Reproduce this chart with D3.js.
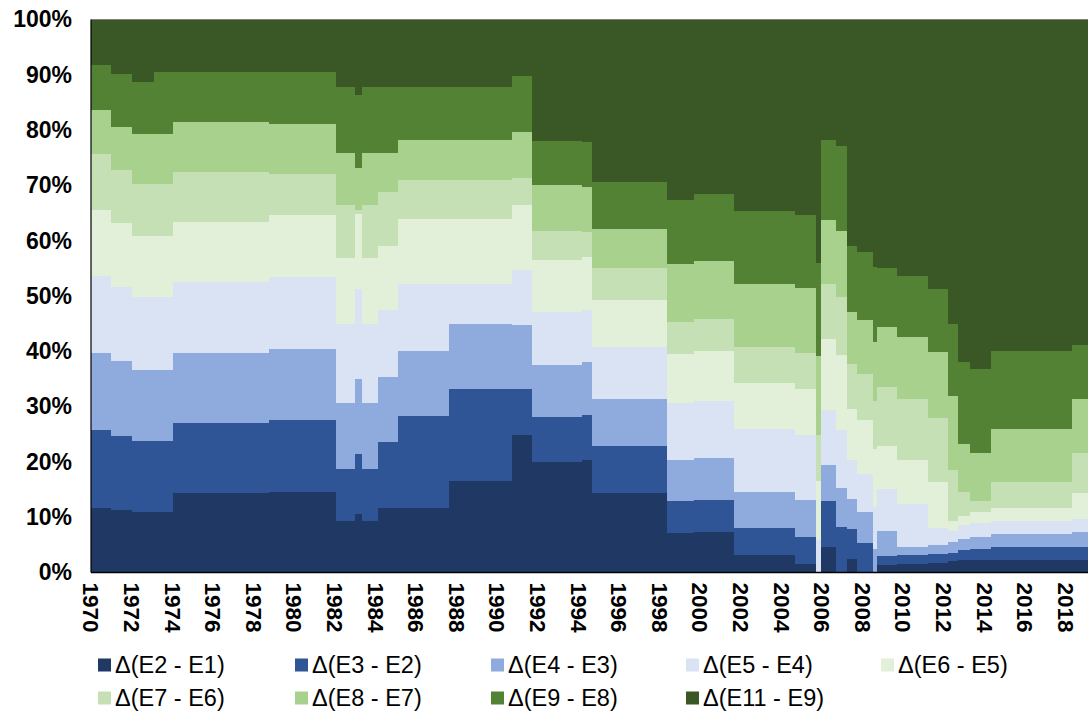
<!DOCTYPE html>
<html><head><meta charset="utf-8">
<script src="https://cdn.jsdelivr.net/npm/d3@7"></script>
<style>body{margin:0;background:#fff}text{font-family:"Liberation Sans",Arial,sans-serif}</style>
</head><body><svg id="c" width="1088" height="711"></svg>
<script>
// ---- data ----
const seriesNames = ["Δ(E2 - E1)","Δ(E3 - E2)","Δ(E4 - E3)","Δ(E5 - E4)","Δ(E6 - E5)",
                     "Δ(E7 - E6)","Δ(E8 - E7)","Δ(E9 - E8)","Δ(E11 - E9)"];
const seriesColors = ["#203864","#2f5597","#8faadc","#dae3f3","#e2f0d9",
                      "#c5e0b4","#a9d18e","#548235","#3a5825"];
// start of each period (decimal year); the last period ends at periodEnd
const periodStart = [1970.0,1971.0,1972.0,1973.08,1974.05,1978.77,1982.07,1983.0,1983.35,1984.12,
  1985.12,1987.64,1990.74,1991.72,1994.19,1994.68,1998.39,1999.70,2001.67,2004.70,
  2005.71,2005.96,2006.70,2007.23,2007.72,2008.51,2008.73,2009.72,2011.22,2012.23,
  2012.73,2013.30,2014.33,2018.31];
const periodEnd = 2019.11;
const dE2E1  = [11.7,11.3,10.9,10.9,14.3,14.6, 9.4,10.6, 9.4,11.7,11.7,16.5,24.8,19.9,20.3,14.3, 7.1, 7.3, 3.1, 1.5, 0.0, 4.7, 0.0, 2.5, 0.0, 0.0, 1.3, 1.6, 1.7, 2.0, 2.2, 2.2, 2.3, 2.3];
const dE3E2  = [14.0,13.4,12.8,12.8,12.7,12.9, 9.4,10.9, 9.4,11.9,16.6,16.6, 8.3, 8.2, 8.1, 8.6, 5.9, 5.9, 4.9, 5.0, 0.0, 8.2, 8.3, 5.4, 5.3, 0.0, 1.7, 1.5, 1.6, 1.5, 1.9, 2.1, 2.3, 2.4];
const dE4E3  = [14.0,13.5,13.0,13.0,12.7,12.9,11.8,13.5,11.8,11.8,11.8,11.9,11.7, 9.5, 9.6, 8.4, 7.4, 7.5, 6.5, 6.6, 0.0, 6.6, 7.0, 5.4, 5.6, 4.3, 4.5, 1.6, 1.6, 2.0, 2.0, 2.1, 2.4, 2.6];
const dE5E4  = [14.0,13.5,13.1,13.1,12.8,13.0,14.4,16.3,14.4,12.0,12.0, 7.1, 9.9, 9.5, 9.5, 9.4,10.2,10.4,11.5,11.7, 5.9, 9.8,10.4, 7.0, 6.9, 7.5, 7.6, 7.7, 3.2, 2.0, 2.4, 2.5, 2.4, 2.4];
const dE6E5  = [11.9,11.5,11.0,11.0,10.8,11.2,11.9,13.5,11.9,11.7,11.9,11.9,11.7, 9.4, 9.5, 8.5, 8.9, 8.9, 8.2, 8.3,10.6,13.0,13.7, 9.3, 9.7,10.6, 7.7, 7.9, 8.2, 1.8, 1.8, 2.0, 2.3, 4.6];
const dE7E6  = [10.1, 9.5, 9.4, 9.4, 9.1, 7.4, 9.5, 0.7, 9.5, 9.7, 7.0, 7.0, 5.0, 5.3, 4.5, 5.8, 5.8, 5.9, 6.5, 6.6, 8.3, 9.9,10.4, 8.1, 8.4, 8.7,10.7,11.1,11.7, 9.3, 4.2, 2.0, 4.6, 7.3];
const dE8E7  = [ 8.0, 7.8, 9.1, 9.1, 9.0, 9.1, 9.4, 7.6, 9.4, 7.0, 7.2, 7.2, 8.2, 8.2, 8.3, 7.2,10.4,10.5,11.5,11.8,14.4,11.5,11.9, 9.4, 9.7,10.5,10.9,11.1,11.8,13.4, 8.8, 8.7, 9.7, 9.8];
const dE9E8  = [ 8.0, 9.7, 9.4,11.2, 9.1, 9.4,12.0,13.3,12.0,12.0, 9.6, 9.6,10.1, 8.1, 8.0, 8.4,11.7,12.0,13.1,13.2,16.8,14.6,15.5,12.0,12.3,13.6,10.7,11.2,11.5,13.0,14.7,15.2,14.1, 9.8];
const dE11E9 = [ 8.3, 9.8,11.3, 9.5, 9.5, 9.5,12.2,13.6,12.2,12.2,12.2,12.2,10.3,21.9,22.2,29.4,32.6,31.6,34.7,35.3,44.0,21.7,22.8,40.9,42.1,44.8,44.9,46.3,48.7,55.0,62.0,63.2,59.9,58.8];
const yTicks = [0,10,20,30,40,50,60,70,80,90,100];
const xTicks = d3.range(1970, 2019, 2);

// ---- build table ----
const valueArrays = [dE2E1,dE3E2,dE4E3,dE5E4,dE6E5,dE7E6,dE8E7,dE9E8,dE11E9];
const rows = periodStart.map((s,i)=>{
  const r = {start:s, end: i<periodStart.length-1 ? periodStart[i+1] : periodEnd};
  let tot = 0;
  valueArrays.forEach(a=>tot+=a[i]);
  seriesNames.forEach((n,k)=>r[n]=valueArrays[k][i]/tot);
  return r;
});
const stack = d3.stack().keys(seriesNames)(rows);

const svg = d3.select("#c");
const L=91, R=1088, T=19.5, B=572.5;
const x = d3.scaleLinear().domain([1970, periodEnd]).range([L, R]);
const y = d3.scaleLinear().domain([0, 1]).range([B, T]);
const rx = v=>Math.round(x(v)), ry = v=>Math.round(y(v));

svg.append("g").attr("shape-rendering","crispEdges")
  .selectAll("g").data(stack).join("g")
  .attr("fill",(d,i)=>seriesColors[i])
  .selectAll("rect").data(d=>d).join("rect")
  .attr("x",d=>rx(d.data.start))
  .attr("width",d=>rx(d.data.end)-rx(d.data.start))
  .attr("y",d=>ry(d[1]))
  .attr("height",d=>Math.max(0,ry(d[0])-ry(d[1])));

// plot border (top) and axes
svg.append("line").attr("x1",L).attr("x2",R).attr("y1",T).attr("y2",T).attr("stroke","#808080").attr("stroke-width",1);
svg.append("line").attr("x1",L).attr("x2",L).attr("y1",T).attr("y2",B).attr("stroke","#000").attr("stroke-width",1.2);
svg.append("line").attr("x1",L).attr("x2",R).attr("y1",B).attr("y2",B).attr("stroke","#000").attr("stroke-width",1.5);

// y axis labels
const yAxis = d3.axisLeft(d3.scaleLinear().domain([0,100]).range([B,T]))
  .tickValues(yTicks).tickFormat(d=>d+"%").tickSize(0).tickPadding(19);
const gy = svg.append("g").attr("transform",`translate(${L},0)`).call(yAxis);
gy.select(".domain").remove();
gy.selectAll("text").attr("font-size",23).attr("font-weight","bold").attr("fill","#000")
  .attr("font-family","Liberation Sans, Arial, sans-serif");

// x axis labels (rotated)
const xAxis = d3.axisBottom(x).tickValues(xTicks).tickFormat(d3.format("d")).tickSize(0);
const gx = svg.append("g").attr("transform",`translate(0,${B})`).call(xAxis);
gx.select(".domain").remove();
gx.selectAll("text").attr("font-size",22.5).attr("font-weight","bold").attr("fill","#000")
  .attr("font-family","Liberation Sans, Arial, sans-serif")
  .attr("transform","rotate(90)").attr("x",10).attr("y",0).attr("dy","0.36em")
  .style("text-anchor","start");

// legend
const legX = [98,295,491,686,881];
const legY = [665,698];
const lg = svg.append("g");
seriesNames.forEach((n,i)=>{
  const r = Math.floor(i/5), c = i%5;
  const g = lg.append("g").attr("transform",`translate(${legX[c]},${legY[r]})`);
  g.append("rect").attr("x",0).attr("y",-6.5).attr("width",13).attr("height",13).attr("fill",seriesColors[i]);
  g.append("text").attr("x",17).attr("y",0).attr("dy","0.35em").attr("font-size",23.5).attr("fill","#000").text(n);
});
</script></body></html>
